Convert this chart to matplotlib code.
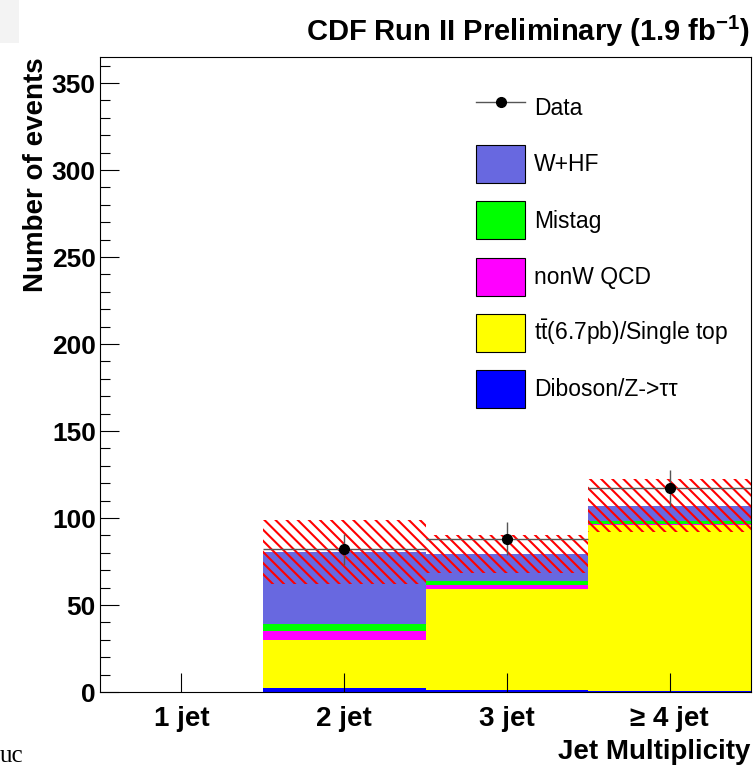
import numpy as np
import matplotlib
matplotlib.use('Agg')
import matplotlib.pyplot as plt
from matplotlib import font_manager
from matplotlib.patches import Patch, Rectangle
from matplotlib.lines import Line2D

# fonts: Helvetica-like, narrow bold for axis labels when available
names = {f.name for f in font_manager.fontManager.ttflist}
NARROW = 'Liberation Sans Narrow' if 'Liberation Sans Narrow' in names else 'Liberation Sans'
plt.rcParams['font.family'] = ['Liberation Sans', 'DejaVu Sans']
plt.rcParams['mathtext.fontset'] = 'custom'
plt.rcParams['mathtext.rm'] = 'Liberation Sans'
plt.rcParams['mathtext.bf'] = 'Liberation Sans:bold'
plt.rcParams['hatch.linewidth'] = 1.5

# data
jet_bins = [1, 2, 3, 4]
jet_labels = ['1 jet', '2 jet', '3 jet', '\u2265 4 jet']
diboson = [0, 2.4, 1.0, 0.8]
ttbar = [0, 27.7, 58.1, 95.1]
nonw_qcd = [0, 5.2, 2.4, 0.8]
mistag = [0, 4.0, 2.5, 1.7]
w_hf = [0, 40.9, 15.5, 8.8]
bkg_err = [0, 18.4, 11.0, 15.3]
data = [np.nan, 82, 88, 117]
data_err = [0, 9.0, 9.5, 10.5]

fig = plt.figure(figsize=(7.54, 7.68), dpi=100)
ax = fig.add_axes([100/754, 1 - 692/768, 651/754, (692 - 57)/768])

# stacked backgrounds, bottom to top
stack = [(diboson, '#0000ff', r'Diboson/Z->ττ'),
         (ttbar, '#ffff00', r'$\mathrm{t\bar{t}}$(6.7pb)/Single top'),
         (nonw_qcd, '#ff00ff', 'nonW QCD'),
         (mistag, '#00ff00', 'Mistag'),
         (w_hf, '#6868e0', 'W+HF')]
bottom = np.zeros(len(jet_bins))
for vals, col, lab in stack:
    ax.bar(jet_bins, vals, width=1.0, bottom=bottom, color=col, linewidth=0)
    bottom = bottom + np.array(vals)

# uncertainty band
err = np.array(bkg_err)
ax.bar(jet_bins, 2 * err, width=1.0, bottom=bottom - err, fill=False,
       hatch='\\\\\\', edgecolor='red', linewidth=0)

# data points
ax.errorbar(jet_bins, data, yerr=data_err, xerr=0.5, fmt='o', color='black',
            ms=7, ecolor='#555555', elinewidth=1, capsize=0)

ax.set_xlim(0.5, 4.5)
ax.set_ylim(0, 365)
ax.set_xticks(jet_bins)
ax.set_xticklabels(jet_labels, family=[NARROW, 'DejaVu Sans'], fontweight='bold', fontsize=20)
ax.set_yticks(range(0, 351, 50))
ax.set_yticks(range(0, 361, 10), minor=True)
for t in ax.get_yticklabels():
    t.set_fontweight('bold')
    t.set_fontsize(19)
ax.tick_params(axis='y', which='major', direction='in', length=13.5, width=0.8, pad=3)
ax.tick_params(axis='y', which='minor', direction='in', length=7, width=0.8)
ax.tick_params(axis='x', which='major', direction='in', length=13.5, width=0.8, pad=10)
ax.tick_params(axis='x', which='minor', bottom=False)
for s in ax.spines.values():
    s.set_linewidth(0.8)

ax.set_ylabel('Number of events', family=[NARROW, 'DejaVu Sans'], fontweight='bold',
              fontsize=20, loc='top', labelpad=2)
fig.text(750/754, 1 - 752/768, 'Jet Multiplicity', family=[NARROW, 'DejaVu Sans'],
         fontweight='bold', fontsize=20, ha='right', va='center')
fig.text(750/754, 1 - 31/768, r'CDF Run II Preliminary (1.9 fb$^{\mathbf{-1}}$)',
         fontweight='bold', fontsize=21, ha='right', va='center')

# legend
handles = [Line2D([0], [0], color='#555555', lw=1, marker='o', ms=7,
                  markerfacecolor='black', markeredgecolor='black')]
labels = ['Data']
for vals, col, lab in reversed(stack):
    handles.append(Patch(facecolor=col, edgecolor='black', linewidth=0.8))
    labels.append(lab)
ax.legend(handles, labels, loc='upper left', bbox_to_anchor=(476/754, 1 - 89/768),
          bbox_transform=fig.transFigure, frameon=False, fontsize=16.5,
          handlelength=2.14, handleheight=2.18, labelspacing=0.79, handletextpad=0.4,
          borderpad=0, borderaxespad=0)

# page artefacts at the edges of the original
fig.patches.append(Rectangle((0, 1 - 43/768), 19/754, 43/768, transform=fig.transFigure,
                             facecolor='#f3f3f3', edgecolor='none'))
fig.text(0.0, 1 - 756/768, 'uc', family='Liberation Serif', fontsize=18,
         ha='left', va='center')

fig.savefig('out.png', dpi=100)
